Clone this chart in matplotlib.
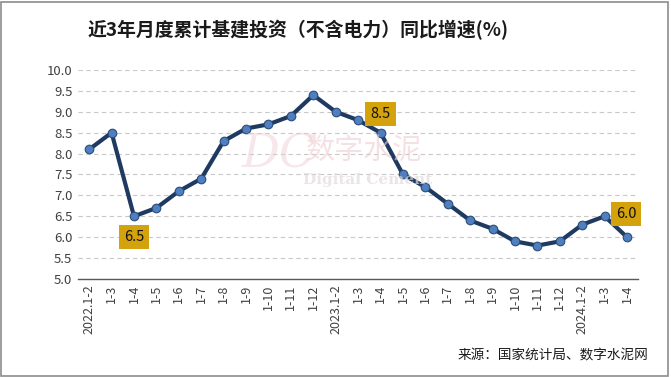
import matplotlib.pyplot as plt
from matplotlib.patches import Rectangle

plt.rcParams['font.family'] = ['Noto Sans CJK SC', 'DejaVu Sans']

# categories and values
labels = ["2022.1-2", "1-3", "1-4", "1-5", "1-6", "1-7", "1-8", "1-9", "1-10", "1-11", "1-12",
          "2023.1-2", "1-3", "1-4", "1-5", "1-6", "1-7", "1-8", "1-9", "1-10", "1-11", "1-12",
          "2024.1-2", "1-3", "1-4"]
growth = [8.1, 8.5, 6.5, 6.7, 7.1, 7.4, 8.3, 8.6, 8.7, 8.9, 9.4,
          9.0, 8.8, 8.5, 7.5, 7.2, 6.8, 6.4, 6.2, 5.9, 5.8, 5.9,
          6.3, 6.5, 6.0]
# labelled points: (index, text offset in data units)
callouts = [(2, -0.5), (13, 0.45), (24, 0.55)]

fig = plt.figure(figsize=(6.71, 3.77), dpi=100)
ax = fig.add_axes([0.1162, 0.260, 0.835, 0.5543])

x = list(range(len(growth)))
ax.plot(x, growth, color="#1F3A60", linewidth=3.0, zorder=3,
        marker="o", markersize=6.2, markerfacecolor="#4F7FBF",
        markeredgecolor="#2A4C7A", markeredgewidth=0.8)

ax.set_xlim(-0.5, len(growth) - 0.5)
ax.set_ylim(5.0, 10.0)
ax.set_yticks([5.0 + 0.5 * i for i in range(11)])
ax.set_yticklabels([f"{5.0 + 0.5 * i:.1f}" for i in range(11)], fontsize=9.5, color="#404040")
ax.set_xticks(x)
ax.set_xticklabels(labels, rotation=90, fontsize=9, color="#404040")
ax.tick_params(axis="both", length=0, pad=4)

ax.grid(axis="y", linestyle=(0, (4, 3)), color="#C8C8C8", linewidth=0.8)
for s in ["top", "right", "left"]:
    ax.spines[s].set_visible(False)
ax.spines["bottom"].set_color("#595959")
ax.spines["bottom"].set_linewidth(1.0)

# callout boxes
for i, dy in callouts:
    dx = 0.0 if i != 24 else -0.05
    ax.text(i + dx, growth[i] + dy, f"{growth[i]:.1f}", ha="center", va="center",
            fontsize=10.5, color="#111111", zorder=5,
            bbox=dict(boxstyle="square,pad=0.35", facecolor="#D4A20C", edgecolor="none"))

# faint watermark
fig.text(0.415, 0.59, "DC", fontsize=34, color="#EBCBD1", alpha=0.45,
         family="DejaVu Serif", fontstyle="italic", ha="center", va="center", zorder=0)
fig.text(0.542, 0.60, "数字水泥", fontsize=21, color="#EFCDD3", alpha=0.6,
         ha="center", va="center", zorder=0)
fig.text(0.548, 0.523, "Digital Cement", fontsize=11, color="#E3DADC", alpha=0.7,
         family="DejaVu Serif", fontweight="bold", ha="center", va="center", zorder=0)

fig.text(0.131, 0.92, "近3年月度累计基建投资（不含电力）同比增速(%)", fontsize=13.6,
         fontweight="bold", color="#1A1A1A", ha="left", va="center")
fig.text(0.966, 0.058, "来源：国家统计局、数字水泥网", fontsize=9.8,
         color="#1A1A1A", ha="right", va="center")

fig.patches.append(Rectangle((0.002, 0.003), 0.994, 0.993, transform=fig.transFigure,
                             fill=False, edgecolor="#8C8C8C", linewidth=1.2))

fig.savefig("out.png", dpi=100)
